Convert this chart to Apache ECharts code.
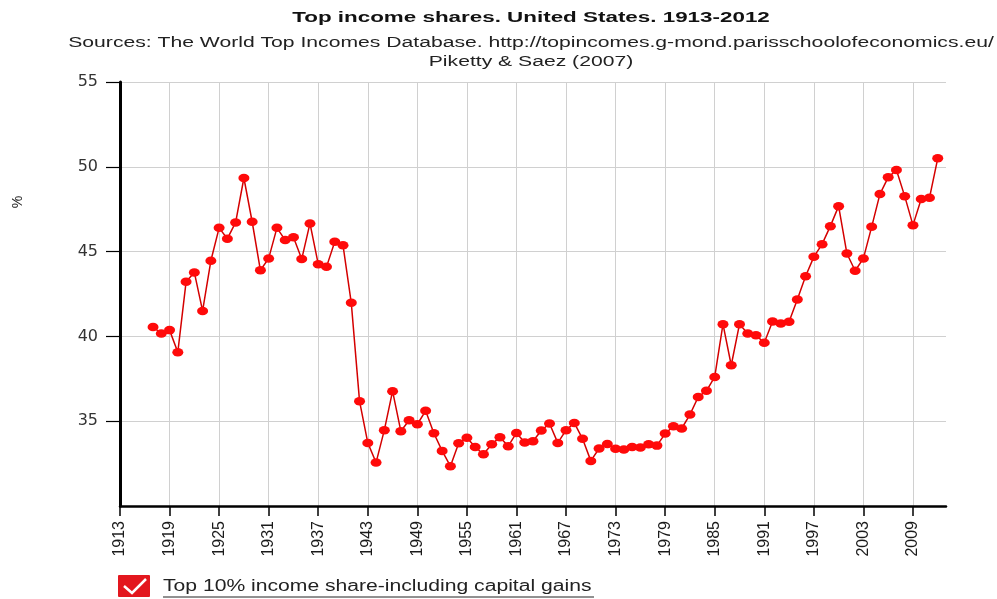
<!DOCTYPE html>
<html>
<head>
<meta charset="utf-8">
<script src="https://cdn.jsdelivr.net/npm/echarts@6.0.0/dist/echarts.min.js"></script>
<style>
  html, body { margin: 0; padding: 0; background: #ffffff; }
  #chart { width: 997px; height: 599px; }
</style>
</head>
<body>
<div id="chart"></div>
<script>
// ---- Data ----
const titleText = 'Top income shares. United States. 1913-2012';
const subtitleLine1 = 'Sources: The World Top Incomes Database. http://topincomes.g-mond.parisschoolofeconomics.eu/';
const subtitleLine2 = 'Piketty & Saez (2007)';
const seriesName = 'Top 10% income share-including capital gains';
const yAxisName = '%';

const axisFirstYear = 1913;
const axisLastYear = 2013;
const dataFirstYear = 1917;

// Top 10% income share incl. capital gains, 1917 .. 2012
const topShare = [
  40.56, 40.17, 40.37, 39.07, 43.22, 43.77, 41.50, 44.46, 46.40, 45.76, // 1917-1926
  46.72, 49.34, 46.76, 43.90, 44.60, 46.40, 45.68, 45.84, 44.56, 46.66, // 1927-1936
  44.26, 44.10, 45.58, 45.37, 41.98, 36.18, 33.72, 32.56, 34.47, 36.77, // 1937-1946
  34.41, 35.06, 34.82, 35.61, 34.29, 33.25, 32.35, 33.70, 34.02, 33.48, // 1947-1956
  33.05, 33.64, 34.06, 33.53, 34.31, 33.74, 33.82, 34.45, 34.86, 33.72, // 1957-1966
  34.47, 34.90, 33.96, 32.66, 33.39, 33.66, 33.37, 33.33, 33.48, 33.45, // 1967-1976
  33.64, 33.56, 34.27, 34.70, 34.57, 35.39, 36.43, 36.79, 37.61, 40.72, // 1977-1986
  38.30, 40.72, 40.17, 40.07, 39.62, 40.88, 40.76, 40.86, 42.18, 43.55, // 1987-1996
  44.69, 45.44, 46.50, 47.68, 44.89, 43.87, 44.60, 46.46, 48.39, 49.38, // 1997-2006
  49.81, 48.27, 46.56, 48.10, 48.17, 50.50                              // 2007-2012
];

const yTickValues = [35, 40, 45, 50, 55];

// ---- Build category axis and aligned series ----
const years = [];
for (let y = axisFirstYear; y <= axisLastYear; y++) years.push(String(y));
const seriesData = years.map(function (y) {
  const i = Number(y) - dataFirstYear;
  return (i >= 0 && i < topShare.length) ? topShare[i] : null;
});

const chart = echarts.init(document.getElementById('chart'), null, { renderer: 'canvas' });

const option = {
  backgroundColor: '#ffffff',
  animation: false,
  grid: { left: 120, right: 51, top: 82, bottom: 93, containLabel: false },
  xAxis: {
    type: 'category',
    data: years,
    boundaryGap: false,
    axisLine: { show: true, onZero: false, lineStyle: { color: '#000', width: 2.5 } },
    axisTick: { show: true, interval: 5, length: 10, lineStyle: { color: '#000', width: 1.5 } },
    axisLabel: {
      show: true, interval: 5, rotate: 90, margin: 15,
      fontFamily: 'Liberation Sans', fontSize: 16, color: '#1a1a1a'
    },
    splitLine: { show: true, interval: 5, lineStyle: { color: '#d0d0d0', width: 1 } }
  },
  yAxis: {
    type: 'value',
    min: 30, max: 55, interval: 5,
    axisLine: { show: true, onZero: false, lineStyle: { color: '#000', width: 3 } },
    axisTick: { show: true, length: 14, customValues: yTickValues, lineStyle: { color: '#000', width: 1.2 } },
    axisLabel: {
      show: true, margin: 22, customValues: yTickValues,
      fontFamily: 'DejaVu Sans', fontSize: 16, color: '#333',
      formatter: function (v) { return v === 30 ? '' : String(v); }
    },
    splitLine: { show: true, lineStyle: { color: '#d0d0d0', width: 1 } }
  },
  series: [{
    name: seriesName,
    type: 'line',
    data: seriesData,
    connectNulls: false,
    symbol: 'path://M0,4a5,4 0 1,0 10,0a5,4 0 1,0 -10,0z',
    symbolSize: [11, 8.5],
    showSymbol: true,
    showAllSymbol: true,
    itemStyle: { color: '#ff0a0a' },
    lineStyle: { color: '#d40000', width: 1.5 },
    z: 3
  }],
  graphic: [
    {
      type: 'text', x: 531, y: 18, scaleX: 1.6, scaleY: 1,
      style: { text: titleText, fontFamily: 'Liberation Sans', fontWeight: 'bold', fontSize: 14,
               fill: '#111', align: 'center', verticalAlign: 'middle' }
    },
    {
      type: 'text', x: 531, y: 43, scaleX: 1.51, scaleY: 1,
      style: { text: subtitleLine1, fontFamily: 'Liberation Sans', fontSize: 14,
               fill: '#222', align: 'center', verticalAlign: 'middle' }
    },
    {
      type: 'text', x: 531, y: 62, scaleX: 1.51, scaleY: 1,
      style: { text: subtitleLine2, fontFamily: 'Liberation Sans', fontSize: 14,
               fill: '#222', align: 'center', verticalAlign: 'middle' }
    },
    {
      type: 'text', x: 18, y: 202, rotation: Math.PI / 2,
      style: { text: yAxisName, fontFamily: 'Liberation Sans', fontSize: 14,
               fill: '#222', align: 'center', verticalAlign: 'middle' }
    },
    // legend: checkbox + label
    {
      type: 'rect', shape: { x: 118, y: 575, width: 32, height: 22, r: 1 },
      style: { fill: '#e3171e' }
    },
    {
      type: 'polyline', shape: { points: [[124, 586], [132, 593], [146, 579]] },
      style: { stroke: '#ffffff', lineWidth: 2.5, fill: null }
    },
    {
      type: 'text', x: 163, y: 587, scaleX: 1.32, scaleY: 1,
      style: { text: seriesName, fontFamily: 'Liberation Sans', fontSize: 16,
               fill: '#222', align: 'left', verticalAlign: 'middle' }
    },
    {
      type: 'line', shape: { x1: 163, y1: 597, x2: 594, y2: 597 },
      style: { stroke: '#222', lineWidth: 1 }
    }
  ]
};

chart.setOption(option);
</script>
</body>
</html>
